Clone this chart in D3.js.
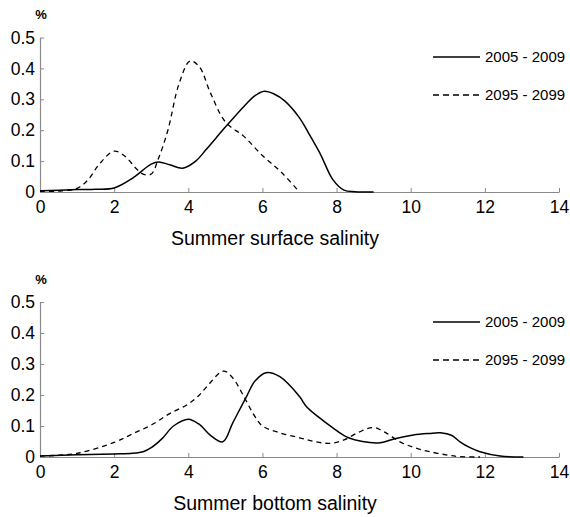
<!DOCTYPE html>
<html>
<head>
<meta charset="utf-8">
<script src="https://cdn.jsdelivr.net/npm/d3@7"></script>
<style>
  html, body { margin: 0; padding: 0; background: #fff; }
  svg { display: block; font-family: "Liberation Sans", Arial, sans-serif; }
</style>
</head>
<body>
<svg id="chart" width="570" height="517"></svg>
<script>
// ---- Data ----
const seriesNames = ["2005 - 2009", "2095 - 2099"];
const xTicks = [0, 2, 4, 6, 8, 10, 12, 14];
const yTicks = [0, 0.1, 0.2, 0.3, 0.4, 0.5];
const yTickLabels = ["0", "0.1", "0.2", "0.3", "0.4", "0.5"];

// Panel 1: Summer surface salinity
const surfaceTitle = "Summer surface salinity";
const surfaceX_2005 = [0, 0.5, 1, 1.5, 2, 2.5, 3, 3.2, 3.5, 3.85, 4.2, 4.5, 5, 5.5, 5.8, 6.05, 6.3, 6.6, 7, 7.2, 7.55, 7.9, 8.2, 8.5, 9];
const surfaceY_2005 = [0.004, 0.006, 0.008, 0.009, 0.013, 0.045, 0.09, 0.097, 0.088, 0.077, 0.1, 0.14, 0.21, 0.277, 0.312, 0.326, 0.318, 0.295, 0.24, 0.2, 0.126, 0.04, 0.006, 0.001, 0];
const surfaceX_2095 = [0, 0.5, 1, 1.3, 1.6, 2, 2.3, 2.6, 2.8, 3.0, 3.2, 3.45, 3.75, 4.05, 4.3, 4.6, 5, 5.5, 6, 6.5, 7];
const surfaceY_2095 = [0.002, 0.003, 0.012, 0.04, 0.09, 0.132, 0.115, 0.075, 0.057, 0.058, 0.11, 0.2, 0.35, 0.424, 0.405, 0.32, 0.227, 0.18, 0.118, 0.065, 0];

// Panel 2: Summer bottom salinity
const bottomTitle = "Summer bottom salinity";
const bottomX_2005 = [0, 1, 2, 2.5, 2.8, 3, 3.3, 3.6, 4, 4.3, 4.6, 4.93, 5.2, 5.57, 5.8, 6.1, 6.47, 7, 7.19, 7.5, 7.91, 8.27, 8.7, 9.17, 9.6, 10.07, 10.5, 10.8, 11.1, 11.33, 11.6, 11.87, 12.41, 13.04];
const bottomY_2005 = [0.003, 0.007, 0.01, 0.012, 0.018, 0.03, 0.06, 0.1, 0.122, 0.105, 0.07, 0.049, 0.11, 0.195, 0.245, 0.272, 0.259, 0.195, 0.162, 0.13, 0.093, 0.065, 0.05, 0.046, 0.06, 0.071, 0.076, 0.078, 0.07, 0.049, 0.03, 0.017, 0.003, 0];
const bottomX_2095 = [0, 1, 2, 2.5, 3, 3.5, 4, 4.3, 4.5, 4.95, 5.2, 5.5, 5.8, 6, 6.47, 7, 7.4, 7.82, 8.2, 8.6, 8.99, 9.3, 9.71, 10.1, 10.52, 11, 11.33, 11.87];
const bottomY_2095 = [0.003, 0.012, 0.047, 0.075, 0.103, 0.14, 0.171, 0.2, 0.227, 0.277, 0.255, 0.195, 0.13, 0.1, 0.078, 0.062, 0.05, 0.044, 0.055, 0.08, 0.095, 0.08, 0.049, 0.03, 0.017, 0.006, 0.001, 0];

// ---- Drawing ----
const svg = d3.select("#chart");
const FONT = '"Liberation Sans", Arial, sans-serif';

function zip(xs, ys) { return xs.map((x, i) => ({ x: x, y: ys[i] })); }

function panel(cfg) {
  const g = svg.append("g");
  const x = d3.scaleLinear().domain([0, 14]).range([40, 559]);
  const y = d3.scaleLinear().domain([0, 0.5]).range([cfg.y0, cfg.yTop]);

  const xAxis = d3.axisBottom(x).tickValues(xTicks).tickSizeInner(-4).tickSizeOuter(0).tickPadding(9);
  const yAxis = d3.axisLeft(y).tickValues(yTicks).tickSizeInner(-4).tickSizeOuter(0).tickPadding(7)
    .tickFormat((d, i) => yTickLabels[i]);

  const gx = g.append("g").attr("transform", `translate(0,${y(0)})`).call(xAxis);
  const gy = g.append("g").attr("transform", `translate(${x(0)},0)`).call(yAxis);
  [gx, gy].forEach(a => {
    a.select(".domain").attr("stroke", "#8a8a8a").attr("stroke-width", 1.2);
    a.selectAll(".tick line").attr("stroke", "#8a8a8a").attr("stroke-width", 1);
    a.selectAll(".tick text").attr("fill", "#000").attr("font-family", FONT).attr("font-size", 17.5);
  });
  gy.selectAll(".tick text").attr("dx", "2");

  const line = d3.line().x(d => x(d.x)).y(d => y(Math.max(0, d.y))).curve(d3.curveCatmullRom.alpha(0.5));
  g.append("path").datum(zip(cfg.x2005, cfg.y2005)).attr("d", line)
    .attr("fill", "none").attr("stroke", "#000").attr("stroke-width", 1.5);
  g.append("path").datum(zip(cfg.x2095, cfg.y2095)).attr("d", line)
    .attr("fill", "none").attr("stroke", "#000").attr("stroke-width", 1.3).attr("stroke-dasharray", "5,4");

  g.append("text").attr("x", 41).attr("y", cfg.y0 - 173).attr("text-anchor", "middle")
    .attr("font-family", FONT).attr("font-size", 13).attr("font-weight", "bold").text("%");

  g.append("text").attr("x", 275).attr("y", y(0) + 53).attr("text-anchor", "middle")
    .attr("font-family", FONT).attr("font-size", 19.5).attr("fill", "#000").text(cfg.title);

  const ly = [cfg.legY, cfg.legY + 38];
  seriesNames.forEach((name, i) => {
    g.append("line").attr("x1", 433).attr("x2", 480).attr("y1", ly[i]).attr("y2", ly[i])
      .attr("stroke", "#000").attr("stroke-width", i === 0 ? 1.5 : 1.3)
      .attr("stroke-dasharray", i === 0 ? null : "6,4");
    g.append("text").attr("x", 485).attr("y", ly[i]).attr("dy", "0.35em")
      .attr("font-family", FONT).attr("font-size", 15).attr("fill", "#000").text(name);
  });
}

panel({ y0: 192, yTop: 37.5, title: surfaceTitle, legY: 57,
  x2005: surfaceX_2005, y2005: surfaceY_2005, x2095: surfaceX_2095, y2095: surfaceY_2095 });
panel({ y0: 457, yTop: 302, title: bottomTitle, legY: 322,
  x2005: bottomX_2005, y2005: bottomY_2005, x2095: bottomX_2095, y2095: bottomY_2095 });
</script>
</body>
</html>
